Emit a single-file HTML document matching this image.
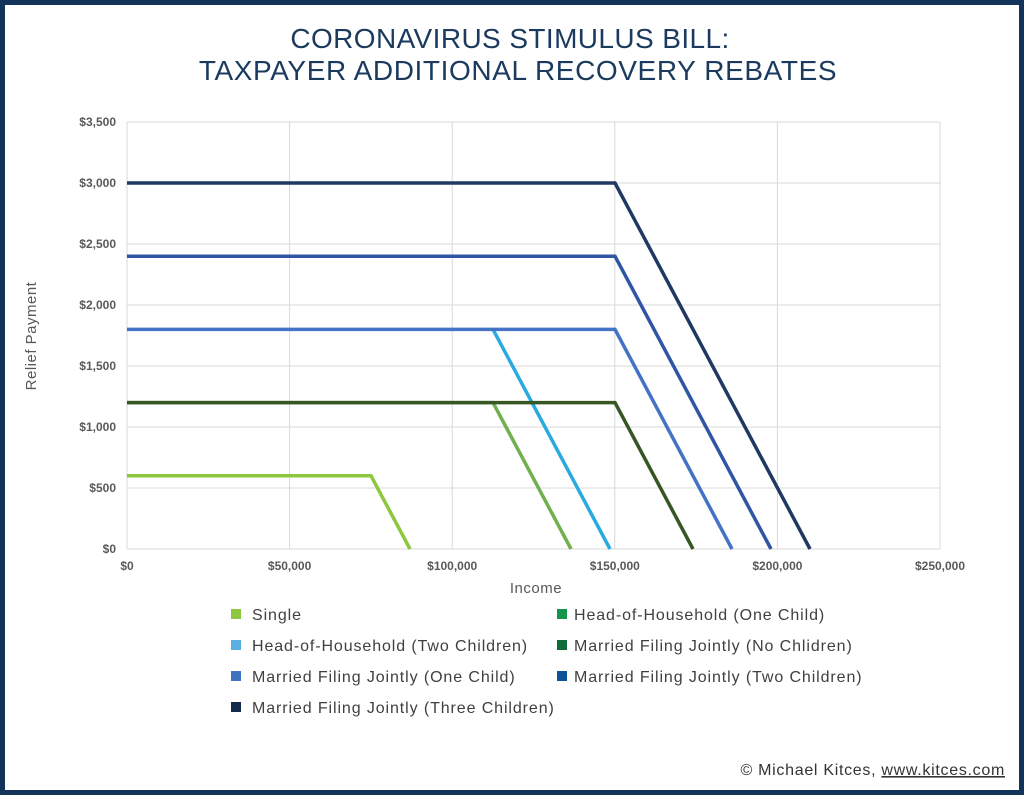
<!DOCTYPE html>
<html><head><meta charset="utf-8"><style>
body{margin:0;width:1024px;height:795px;background:#fff;font-family:"Liberation Sans",sans-serif;}
</style></head><body>
<svg width="1024" height="795" xmlns="http://www.w3.org/2000/svg" font-family="Liberation Sans, sans-serif">
<rect x="2.5" y="2.5" width="1019" height="790" fill="#fff" stroke="#13335a" stroke-width="5"/>
<text x="510" y="48" text-anchor="middle" font-size="28" letter-spacing="0.4" fill="#1a3a5e">CORONAVIRUS STIMULUS BILL:</text>
<text x="518" y="80" text-anchor="middle" font-size="28" letter-spacing="0.6" fill="#1a3a5e">TAXPAYER ADDITIONAL RECOVERY REBATES</text>
<g stroke="#d9d9d9" stroke-width="1">
<line x1="127" y1="122" x2="940" y2="122"/><line x1="127" y1="183" x2="940" y2="183"/><line x1="127" y1="244" x2="940" y2="244"/><line x1="127" y1="305" x2="940" y2="305"/><line x1="127" y1="366" x2="940" y2="366"/><line x1="127" y1="427" x2="940" y2="427"/><line x1="127" y1="488" x2="940" y2="488"/><line x1="127" y1="549" x2="940" y2="549"/>
<line x1="127" y1="122" x2="127" y2="549"/><line x1="289.6" y1="122" x2="289.6" y2="549"/><line x1="452.2" y1="122" x2="452.2" y2="549"/><line x1="614.8" y1="122" x2="614.8" y2="549"/><line x1="777.4" y1="122" x2="777.4" y2="549"/><line x1="940" y1="122" x2="940" y2="549"/>
</g>
<g font-size="12" font-weight="bold" fill="#595959" text-anchor="end">
<text x="116" y="126">$3,500</text><text x="116" y="187">$3,000</text><text x="116" y="248">$2,500</text><text x="116" y="309">$2,000</text><text x="116" y="370">$1,500</text><text x="116" y="431">$1,000</text><text x="116" y="492">$500</text><text x="116" y="553">$0</text>
</g>
<g font-size="12" font-weight="bold" fill="#595959" text-anchor="middle">
<text x="127" y="570">$0</text><text x="289.6" y="570">$50,000</text><text x="452.2" y="570">$100,000</text><text x="614.8" y="570">$150,000</text><text x="777.4" y="570">$200,000</text><text x="940" y="570">$250,000</text>
</g>
<text x="536" y="593" text-anchor="middle" font-size="15" letter-spacing="0.5" fill="#595959">Income</text>
<text transform="translate(36 336) rotate(-90)" text-anchor="middle" font-size="15" letter-spacing="0.5" fill="#595959">Relief Payment</text>
<g fill="none" stroke-width="3.5">
<polyline points="127,475.8 371,475.8 410,549" stroke="#8dc63f"/>
<polyline points="127,402.6 493,402.6 571,549" stroke="#72b04e"/>
<polyline points="493,329.4 610,549" stroke="#29abe2"/>
<polyline points="127,402.6 615,402.6 693,549" stroke="#375623"/>
<polyline points="127,329.4 615,329.4 732,549" stroke="#4472c4"/>
<polyline points="127,256.2 615,256.2 771,549" stroke="#2f55a4"/>
<polyline points="127,183 615,183 810,549" stroke="#1f3864"/>
</g>
<g font-size="16" letter-spacing="0.9" fill="#404040">
<rect x="231" y="609" width="10" height="10" fill="#8dc63f"/><text x="252" y="620">Single</text>
<rect x="557" y="609" width="10" height="10" fill="#12954a"/><text x="574" y="620">Head-of-Household (One Child)</text>
<rect x="231" y="640" width="10" height="10" fill="#5aaee0"/><text x="252" y="651">Head-of-Household (Two Children)</text>
<rect x="557" y="640" width="10" height="10" fill="#0d6b3a"/><text x="574" y="651">Married Filing Jointly (No Chlidren)</text>
<rect x="231" y="671" width="10" height="10" fill="#3c74bf"/><text x="252" y="682">Married Filing Jointly (One Child)</text>
<rect x="557" y="671" width="10" height="10" fill="#0b5394"/><text x="574" y="682">Married Filing Jointly (Two Children)</text>
<rect x="231" y="702" width="10" height="10" fill="#0f2a4a"/><text x="252" y="713">Married Filing Jointly (Three Children)</text>
</g>
<text x="1005" y="775" text-anchor="end" font-size="16" letter-spacing="0.7" fill="#333">© Michael Kitces, <tspan text-decoration="underline">www.kitces.com</tspan></text>
</svg>
</body></html>
